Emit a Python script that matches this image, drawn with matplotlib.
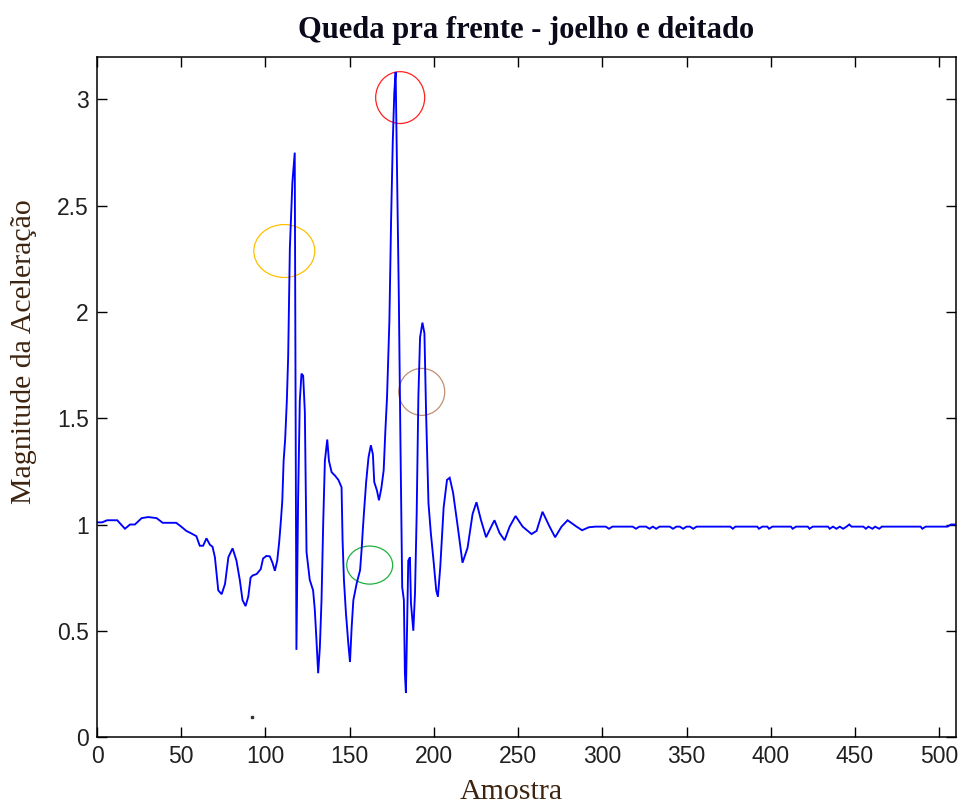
import matplotlib
matplotlib.use("Agg")
import matplotlib.pyplot as plt
from matplotlib.patches import Ellipse

# ---- data ----
sample_x = [0, 3, 6, 12, 16.6, 19.6, 22.5, 26.5, 30.4, 35.4, 39, 47, 50, 53, 56, 59, 61, 63, 65, 67,
            68.6, 70, 72, 74, 76, 78, 80.5, 82.8, 84.8, 86.4, 88.2, 89.8, 91.2, 92.4, 94.8, 97.2, 98.6,
            100.6, 102.6, 104.2, 105.6, 107, 108.2, 109.2, 110, 110.8, 111.7, 112.7, 113.5, 114.5, 116,
            117.4, 118.4, 119.4, 120.4, 121.4, 122.4, 123.4, 124.4, 126.3, 128.3, 129.3, 130.3, 131.3,
            132.3, 133.3, 134.3, 135.3, 136.7, 137.7, 139.3, 141.3, 143.3, 145.2, 145.8, 146.6, 147.8,
            149.2, 150.2, 151.2, 152.2, 154.2, 156.2, 157.2, 157.8, 158.6, 159.8, 161.2, 162.6, 163.8,
            164.6, 166.2, 167.4, 168.8, 170.2, 171.2, 172.2, 173.6, 174.6, 175.6, 176.5, 177.3, 178.2,
            179.2, 180.2, 181.2, 182.2, 182.8, 183.4, 184.8, 185.8, 186.4, 187.8, 188.8, 189.8, 190.8,
            191.8, 193.2, 194.4, 195.4, 196.8, 198.2, 199.8, 201.4, 202.4, 203.8, 205.8, 207.8, 209.4,
            211.4, 214, 217, 220, 223, 225.3, 228, 231, 235, 236, 239, 242, 245, 248.5, 252.7, 258, 261,
            264.5, 268.7, 272, 275.8, 279.4, 284.7, 288, 292, 296, 302, 304, 306, 318, 320, 322, 326,
            328, 330, 332, 334, 340, 342, 344, 346, 348, 350, 352, 354, 356, 376, 377.5, 379, 392, 393,
            395, 398, 399, 401, 412, 413, 415, 422, 423, 425, 434, 435, 437, 439, 441, 443, 445, 446.6,
            448, 455, 456.5, 458, 460.4, 462, 464.4, 466, 489, 490, 492, 505, 507, 510]
magnitude = [1.01, 1.01, 1.02, 1.02, 0.98, 1.0, 1.0, 1.03, 1.035, 1.03, 1.008, 1.008, 0.99, 0.97, 0.958,
             0.945, 0.90, 0.90, 0.935, 0.905, 0.895, 0.846, 0.69, 0.672, 0.72, 0.846, 0.888, 0.83, 0.738,
             0.644, 0.616, 0.66, 0.75, 0.76, 0.767, 0.79, 0.84, 0.852, 0.85, 0.82, 0.782, 0.83, 0.92,
             1.02, 1.11, 1.30, 1.40, 1.58, 1.79, 2.30, 2.61, 2.75, 0.41, 1.12, 1.58, 1.71, 1.70, 1.53,
             0.87, 0.74, 0.69, 0.60, 0.456, 0.30, 0.42, 0.644, 1.006, 1.30, 1.40, 1.30, 1.246, 1.23,
             1.21, 1.175, 0.926, 0.74, 0.583, 0.44, 0.353, 0.517, 0.644, 0.724, 0.785, 0.893, 0.973,
             1.067, 1.20, 1.316, 1.373, 1.33, 1.20, 1.16, 1.114, 1.17, 1.255, 1.44, 1.60, 1.96, 2.43,
             2.80, 3.03, 3.13, 2.61, 2.07, 1.36, 0.705, 0.644, 0.30, 0.207, 0.83, 0.846, 0.63, 0.50,
             0.677, 1.05, 1.60, 1.88, 1.95, 1.90, 1.52, 1.10, 0.96, 0.83, 0.69, 0.66, 0.80, 1.08, 1.21,
             1.22, 1.15, 1.0, 0.82, 0.89, 1.05, 1.105, 1.02, 0.94, 1.005, 1.02, 0.96, 0.926, 0.99, 1.04,
             0.99, 0.955, 0.97, 1.06, 0.99, 0.94, 0.99, 1.02, 0.99, 0.973, 0.987, 0.99, 0.99, 0.98, 0.99,
             0.99, 0.98, 0.99, 0.99, 0.98, 0.99, 0.98, 0.99, 0.99, 0.98, 0.99, 0.99, 0.98, 0.99, 0.99,
             0.98, 0.99, 0.99, 0.98, 0.99, 0.99, 0.98, 0.99, 0.99, 0.98, 0.99, 0.99, 0.98, 0.99, 0.99,
             0.98, 0.99, 0.99, 0.98, 0.99, 0.98, 0.99, 0.98, 0.99, 1.0, 0.99, 0.99, 0.98, 0.99, 0.98,
             0.99, 0.98, 0.99, 0.99, 0.98, 0.99, 0.99, 1.0, 1.0]

x_ticks = [0, 50, 100, 150, 200, 250, 300, 350, 400, 450, 500]
y_ticks = [0, 0.5, 1, 1.5, 2, 2.5, 3]
y_tick_labels = ["0", "0.5", "1", "1.5", "2", "2.5", "3"]

# highlighted regions (center x, center y, width, height, colour)
circle_cx = [180.0, 111.2, 192.8, 161.9]
circle_cy = [3.009, 2.287, 1.624, 0.809]
circle_w = [29.1, 36.2, 27.3, 27.3]
circle_h = [0.244, 0.249, 0.221, 0.179]
circle_colors = ["#ff2020", "#ffc000", "#c09070", "#20b040"]

title_text = "Queda pra frente - joelho e deitado"
xlabel_text = "Amostra"
ylabel_text = "Magnitude da Aceleração"

# ---- figure ----
fig = plt.figure(figsize=(9.61, 8.05), dpi=100)
ax = fig.add_axes([97 / 961, 68 / 805, 859 / 961, 680 / 805])

ax.plot(sample_x, magnitude, color="#0000ff", lw=1.35, solid_joinstyle="miter")
ax.plot([92], [0.094], marker="s", ms=1.6, color="#333333", ls="none")

for cx, cy, w, h, c in zip(circle_cx, circle_cy, circle_w, circle_h, circle_colors):
    ax.add_patch(Ellipse((cx, cy), w, h, fill=False, edgecolor=c, lw=0.9))

ax.set_xlim(0, 510)
ax.set_ylim(0, 3.2)
ax.set_xticks(x_ticks)
ax.set_yticks(y_ticks)
ax.set_yticklabels(y_tick_labels)

ax.tick_params(direction="in", length=7, width=1.0, top=True, right=True,
               labelsize=16.5, pad=6)
for lab in ax.get_xticklabels() + ax.get_yticklabels():
    lab.set_family("Liberation Sans")
    lab.set_color("#202020")
for s in ax.spines.values():
    s.set_linewidth(1.1)

ax.set_title(title_text, fontsize=22, fontweight="bold", family="Liberation Serif",
             color="#0a0a1a", pad=14)
ax.set_xlabel(xlabel_text, fontsize=21.5, family="Liberation Serif", color="#3d2410")
ax.set_ylabel(ylabel_text, fontsize=21.5, family="Liberation Serif", color="#3d2410")
ax.xaxis.set_label_coords(0.482, -0.062)
ax.yaxis.set_label_coords(-0.070, 0.566)

fig.savefig("out.png", dpi=100)
